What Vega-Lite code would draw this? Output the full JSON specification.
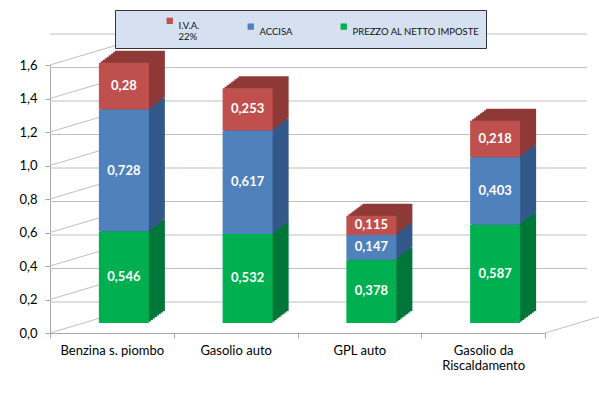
{
  "$schema": "https://vega.github.io/schema/vega-lite/v6.json",
  "width": 495,
  "height": 268,
  "autosize": {"type": "none"},
  "padding": {"left": 50, "top": 65, "right": 54, "bottom": 66},
  "config": {
    "view": {"stroke": null},
    "font": "Lato",
    "locale": {"number": {"decimal": ",", "thousands": ".", "grouping": [3], "currency": ["", " €"]}}
  },
  "datasets": {
    "costs": [
      {"cat": "Benzina s. piombo", "comp": "PREZZO AL NETTO IMPOSTE", "ord": 1, "value": 0.546},
      {"cat": "Benzina s. piombo", "comp": "ACCISA", "ord": 2, "value": 0.728},
      {"cat": "Benzina s. piombo", "comp": "I.V.A. 22%", "ord": 3, "value": 0.28},
      {"cat": "Gasolio auto", "comp": "PREZZO AL NETTO IMPOSTE", "ord": 1, "value": 0.532},
      {"cat": "Gasolio auto", "comp": "ACCISA", "ord": 2, "value": 0.617},
      {"cat": "Gasolio auto", "comp": "I.V.A. 22%", "ord": 3, "value": 0.253},
      {"cat": "GPL auto", "comp": "PREZZO AL NETTO IMPOSTE", "ord": 1, "value": 0.378},
      {"cat": "GPL auto", "comp": "ACCISA", "ord": 2, "value": 0.147},
      {"cat": "GPL auto", "comp": "I.V.A. 22%", "ord": 3, "value": 0.115},
      {"cat": "Gasolio da Riscaldamento", "comp": "PREZZO AL NETTO IMPOSTE", "ord": 1, "value": 0.587},
      {"cat": "Gasolio da Riscaldamento", "comp": "ACCISA", "ord": 2, "value": 0.403},
      {"cat": "Gasolio da Riscaldamento", "comp": "I.V.A. 22%", "ord": 3, "value": 0.218}
    ],
    "grid": [{"v": 0}, {"v": 0.2}, {"v": 0.4}, {"v": 0.6}, {"v": 0.8}, {"v": 1.0}, {"v": 1.2}, {"v": 1.4}, {"v": 1.6}]
  },
  "layer": [
    {
      "data": {"name": "grid"},
      "mark": {"type": "rule", "color": "#BFBFBF", "strokeWidth": 1, "xOffset": 42, "x2Offset": 42, "yOffset": -31},
      "encoding": {
        "y": {
          "field": "v", "type": "quantitative", "title": null,
          "scale": {"domain": [0, 1.6], "nice": false, "zero": true},
          "axis": {
            "values": [0, 0.2, 0.4, 0.6, 0.8, 1.0, 1.2, 1.4, 1.6], "tickCount": 20, "format": ".1f", "grid": false, "labelOverlap": false,
            "domainColor": "#A6A6A6", "tickColor": "#A6A6A6", "tickSize": 5, "labelPadding": 8,
            "labelFontSize": 13, "labelColor": "#000000", "labelFont": "Lato"
          }
        }
      }
    },
    {
      "data": {"name": "grid"},
      "mark": {"type": "rule", "color": "#BFBFBF", "strokeWidth": 1, "x2Offset": 42, "y2Offset": -31},
      "encoding": {
        "x": {
          "datum": "Benzina s. piombo", "type": "nominal", "bandPosition": 0, "title": null,
          "scale": {"domain": ["Benzina s. piombo", "Gasolio auto", "GPL auto", "Gasolio da Riscaldamento"], "paddingInner": 0, "paddingOuter": 0},
          "axis": {
            "bandPosition": 0.5, "labelAngle": 0, "tickBand": "extent", "domainColor": "#A6A6A6", "tickColor": "#A6A6A6", "tickSize": 5,
            "labelPadding": 6, "labelFontSize": 13, "labelColor": "#000000", "labelFont": "Lato", "labelOverlap": false,
            "labelExpr": "datum.label == 'Gasolio da Riscaldamento' ? ['Gasolio da', 'Riscaldamento'] : datum.label"
          }
        },
        "x2": {"datum": "Benzina s. piombo"},
        "y": {"field": "v", "type": "quantitative", "title": null},
        "y2": {"field": "v"}
      }
    },
    {
      "data": {"values": [{"v": 0}]},
      "mark": {"type": "rule", "color": "#BFBFBF", "strokeWidth": 1, "x2Offset": 165.75, "y2Offset": -31},
      "encoding": {
        "x": {"datum": "Gasolio da Riscaldamento", "type": "nominal", "bandPosition": 1, "title": null},
        "x2": {"datum": "Gasolio da Riscaldamento"},
        "y": {"field": "v", "type": "quantitative", "title": null},
        "y2": {"field": "v"}
      }
    },
    {
      "data": {"name": "costs"},
      "encoding": {
        "x": {"field": "cat", "type": "nominal", "sort": null, "title": null},
        "y": {"field": "value", "type": "quantitative", "stack": "zero", "title": null},
        "order": {"field": "ord", "type": "quantitative"},
        "fill": {
          "field": "comp", "type": "nominal",
          "scale": {"range": ["#33598A", "#8E3A37", "#00773A"]},
          "legend": null
        }
      },
      "layer": [
        {"mark": {"type": "bar", "width": 50, "xOffset": 28, "x2Offset": 28, "yOffset": -22, "y2Offset": -22}},
        {"mark": {"type": "bar", "width": 50, "xOffset": 26, "x2Offset": 26, "yOffset": -20.5, "y2Offset": -20.5}},
        {"mark": {"type": "bar", "width": 50, "xOffset": 24, "x2Offset": 24, "yOffset": -19, "y2Offset": -19}},
        {"mark": {"type": "bar", "width": 50, "xOffset": 22, "x2Offset": 22, "yOffset": -17.5, "y2Offset": -17.5}},
        {"mark": {"type": "bar", "width": 50, "xOffset": 20, "x2Offset": 20, "yOffset": -16, "y2Offset": -16}},
        {"mark": {"type": "bar", "width": 50, "xOffset": 18, "x2Offset": 18, "yOffset": -14.5, "y2Offset": -14.5}},
        {"mark": {"type": "bar", "width": 50, "xOffset": 16, "x2Offset": 16, "yOffset": -13, "y2Offset": -13}},
        {"mark": {"type": "bar", "width": 50, "xOffset": 14, "x2Offset": 14, "yOffset": -11.5, "y2Offset": -11.5}}
      ]
    },
    {
      "data": {"name": "costs"},
      "mark": {"type": "bar", "width": 50, "xOffset": 12, "x2Offset": 12, "yOffset": -10, "y2Offset": -10},
      "encoding": {
        "x": {"field": "cat", "type": "nominal", "sort": null, "title": null},
        "y": {"field": "value", "type": "quantitative", "stack": "zero", "title": null},
        "order": {"field": "ord", "type": "quantitative"},
        "color": {
          "field": "comp", "type": "nominal",
          "scale": {"domain": ["I.V.A. 22%", "ACCISA", "PREZZO AL NETTO IMPOSTE"], "range": ["#C0504D", "#4F81BD", "#00B050"]},
          "legend": {
            "orient": "none", "legendX": 65, "legendY": -55, "direction": "horizontal", "title": null,
            "fillColor": "#D5E0F0", "strokeColor": "#333333", "padding": 6, "columnPadding": 2, "symbolOffset": 44,
            "symbolType": "square", "symbolSize": 40, "symbolStrokeWidth": 0,
            "labelFontSize": 9.5, "labelFont": "Lato", "labelColor": "#111111", "labelBaseline": "top", "labelLimit": 300,
            "labelExpr": "datum.label == 'I.V.A. 22%' ? ['I.V.A.', '22%'] : datum.label"
          }
        }
      }
    },
    {
      "data": {"name": "costs"},
      "mark": {"type": "text", "color": "white", "fontWeight": "bold", "fontSize": 13, "font": "Lato", "xOffset": 12, "yOffset": -10},
      "encoding": {
        "x": {"field": "cat", "type": "nominal", "sort": null, "title": null},
        "y": {"field": "value", "type": "quantitative", "stack": "zero", "bandPosition": 0.5, "title": null},
        "order": {"field": "ord", "type": "quantitative"},
        "detail": {"field": "comp", "type": "nominal"},
        "text": {"field": "value", "type": "quantitative", "format": ".3~f"}
      }
    }
  ]
}
